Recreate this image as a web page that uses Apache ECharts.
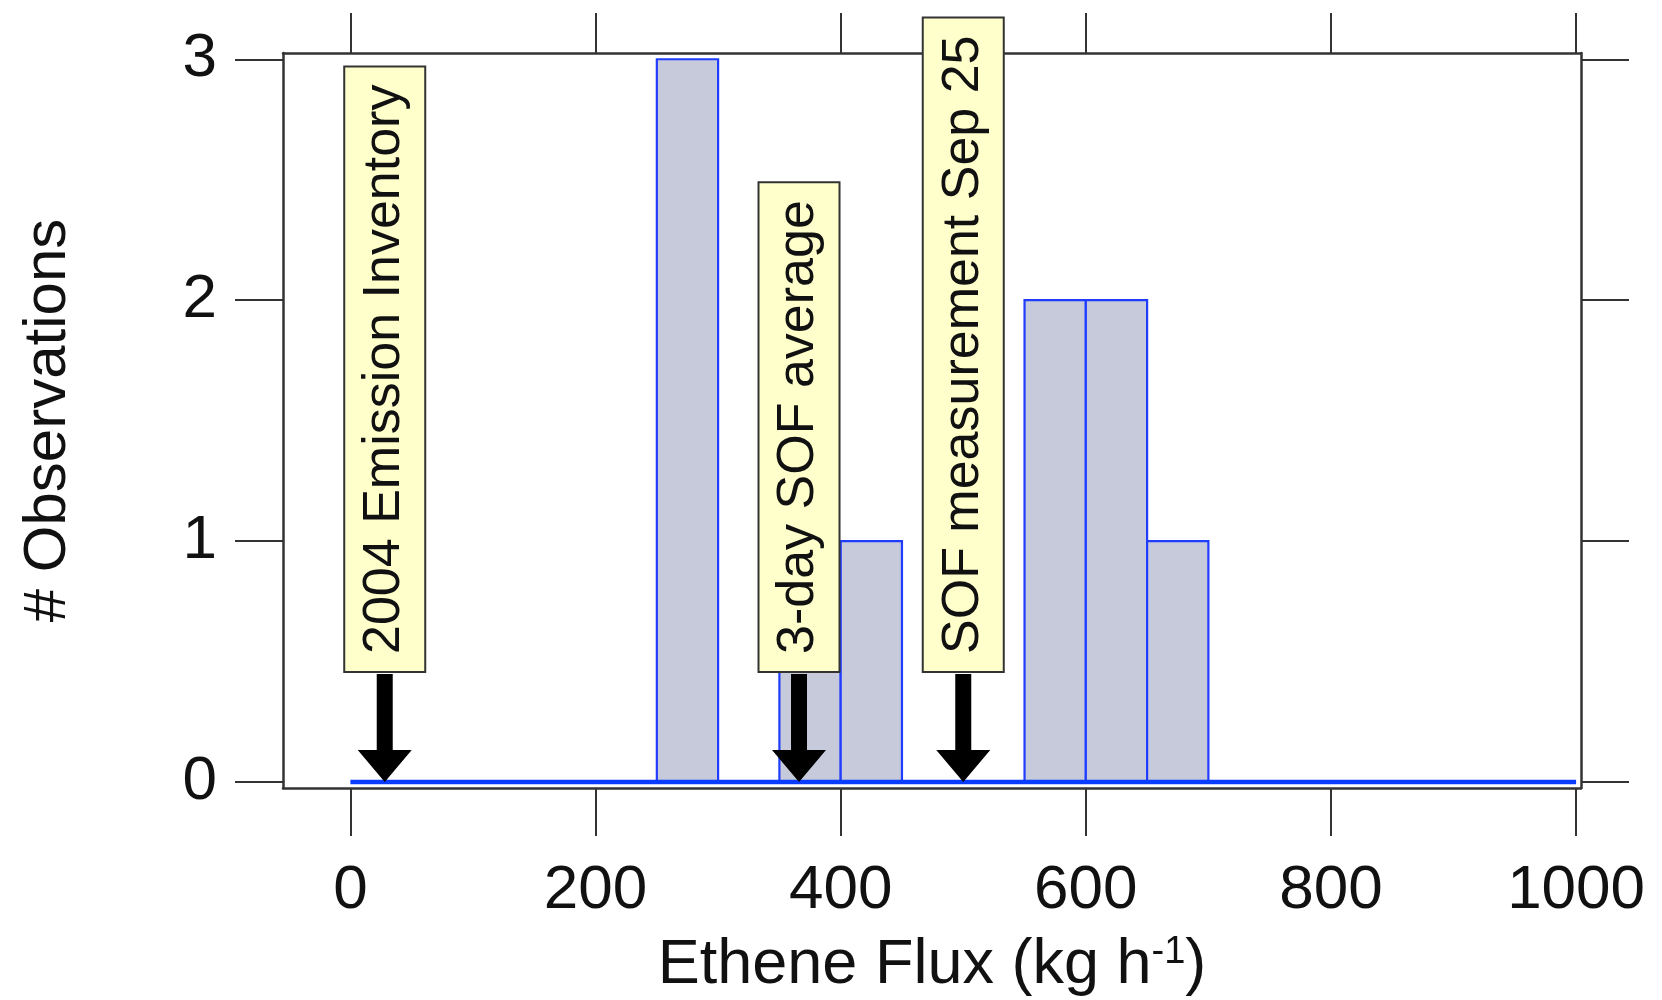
<!DOCTYPE html>
<html><head><meta charset="utf-8">
<script src="https://cdn.jsdelivr.net/npm/echarts@6/dist/echarts.min.js"></script>
<style>html,body{margin:0;padding:0;background:#fff}#c{width:1662px;height:1000px}</style>
</head><body><div id="c"></div>
<script>
// ---- data ----
const binStarts = [250, 350, 400, 550, 600, 650];
const binWidth = 50;
const counts = [3, 1, 1, 2, 2, 1];
const baselineRange = [0, 1000];
const xTicks = [0, 200, 400, 600, 800, 1000];
const yTicks = [0, 1, 2, 3];
const markerX = [28, 366, 500];
const markerLabels = ['2004 Emission Inventory', '3-day SOF average', 'SOF measurement Sep 25'];
const xTitle = 'Ethene Flux (kg h';
const yTitle = '# Observations';

// ---- style ----
const FONT = "'Liberation Sans', Arial, sans-serif";
const AX = '#333';
const chart = echarts.init(document.getElementById('c'), null, {renderer: 'canvas'});

function axisBase(ticks, pos, showLabels, tickLen, extra) {
  return Object.assign({
    type: 'value',
    position: pos,
    axisLine: {show: true, onZero: false, lineStyle: {color: AX, width: 2.5}},
    axisTick: {show: true, inside: false, length: tickLen, customValues: ticks, lineStyle: {color: AX, width: 2}},
    axisLabel: {show: showLabels, customValues: ticks, fontSize: 62, fontFamily: FONT, color: '#111',
      formatter: v => String(v)},
    splitLine: {show: false}
  }, extra);
}

const option = {
  backgroundColor: '#fff',
  animation: false,
  grid: {left: 283, top: 53, width: 1298, height: 735, containLabel: false, outerBoundsMode: 'none'},
  xAxis: [
    axisBase(xTicks, 'bottom', true, 48, {min: -55, max: 1004,
      name: '{n|' + xTitle + '}{s|-1}{n|)}', nameLocation: 'middle', nameGap: 146,
      nameTextStyle: {fontFamily: FONT, color: '#111', rich: {
        n: {fontSize: 63, fontFamily: FONT, color: '#111'},
        s: {fontSize: 38, fontFamily: FONT, color: '#111', verticalAlign: 'top'}}}}),
    axisBase(xTicks, 'top', false, 40, {min: -55, max: 1004})
  ],
  yAxis: [
    axisBase(yTicks, 'left', true, 48, {min: -0.025, max: 3.026,
      name: yTitle, nameLocation: 'middle', nameGap: 205,
      nameTextStyle: {fontSize: 60, fontFamily: FONT, color: '#111'}}),
    axisBase(yTicks, 'right', false, 48, {min: -0.025, max: 3.026})
  ],
  series: [
    {
      type: 'custom', z: 2,
      data: binStarts.map((s, i) => [s, s + binWidth, counts[i]]),
      encode: {x: [0, 1], y: 2},
      renderItem(params, api) {
        const p0 = api.coord([api.value(0), 0]);
        const p1 = api.coord([api.value(1), api.value(2)]);
        return {type: 'rect', shape: {x: p0[0], y: p1[1], width: p1[0] - p0[0], height: p0[1] - p1[1]},
          style: {fill: '#c6cadb', stroke: '#1f3cff', lineWidth: 2.2}};
      }
    },
    {
      type: 'line', z: 3, symbol: 'none',
      data: baselineRange.map(v => [v, 0]),
      lineStyle: {color: '#0a3cff', width: 4.5}
    },
    {
      type: 'custom', z: 5, clip: false,
      data: markerX.map(v => [v, 0]),
      renderItem(params, api) {
        const p = api.coord([api.value(0), api.value(1)]);
        const x = p[0], tip = p[1];
        const shaftTop = tip - 108, headTop = tip - 32;
        return {type: 'group', children: [
          {type: 'polygon', shape: {points: [[x - 8, shaftTop], [x + 8, shaftTop], [x + 8, headTop], [x + 27, headTop],
            [x, tip], [x - 27, headTop], [x - 8, headTop]]}, style: {fill: '#000'}},
          {type: 'text', x: x, y: shaftTop - 3, rotation: Math.PI / 2,
            style: {text: markerLabels[params.dataIndex], fontSize: 52, fontFamily: FONT, fill: '#111',
              align: 'left', verticalAlign: 'middle', backgroundColor: '#ffffcc',
              borderColor: '#333', borderWidth: 2, padding: [15, 17, 12, 17]}}
        ]};
      }
    }
  ]
};
option.xAxis[0].axisLabel.margin = 72;
option.yAxis[0].axisLabel.margin = 66;
chart.setOption(option);
</script></body></html>
